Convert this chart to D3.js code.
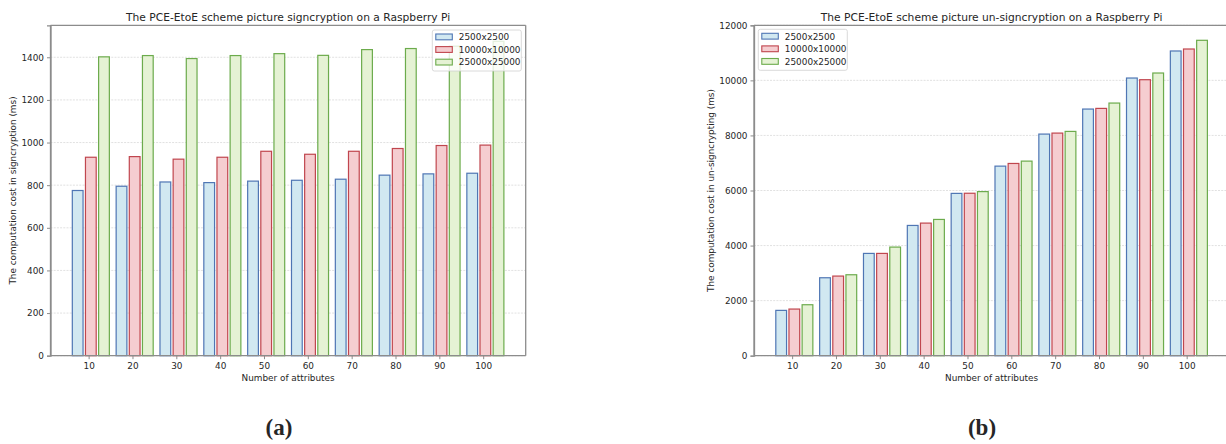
<!DOCTYPE html>
<html>
<head>
<meta charset="utf-8">
<script src="https://cdn.jsdelivr.net/npm/d3@7"></script>
<style>
  html, body { margin: 0; padding: 0; background: #fff; }
  svg { display: block; }
  text { font-family: "DejaVu Sans", sans-serif; fill: #262626; }
</style>
</head>
<body>
<svg id="chart" width="1226" height="444"></svg>
<script>
// Number of attributes (x categories)
const attributes = [10, 20, 30, 40, 50, 60, 70, 80, 90, 100];

// Picture sizes (series)
const seriesNames = ["2500x2500", "10000x10000", "25000x25000"];

// (a) signcryption cost in ms
const signSmall  = [775, 795, 815, 812, 819, 823, 828, 847, 853, 856];
const signMedium = [931, 934, 922, 931, 959, 945, 959, 972, 986, 988];
const signLarge  = [1402, 1408, 1394, 1408, 1417, 1409, 1436, 1441, 1452, 1475];

// (b) un-signcryption cost in ms
const unsignSmall  = [1646, 2831, 3715, 4731, 5895, 6885, 8049, 8958, 10085, 11067];
const unsignMedium = [1694, 2892, 3715, 4816, 5900, 6982, 8085, 8982, 10024, 11139];
const unsignLarge  = [1851, 2940, 3945, 4949, 5960, 7067, 8146, 9176, 10267, 11455];

// Tick values
const signTicks = [0, 200, 400, 600, 800, 1000, 1200, 1400];
const unsignTicks = [0, 2000, 4000, 6000, 8000, 10000, 12000];

const fills   = ["#d1e8f1", "#f5cdd0", "#e5f2d4"];
const strokes = ["#4f76b4", "#c0464e", "#6cab4c"];
const offsets = [-2.5, 0.5, 3.5];   // bar centre offset, in attribute units
const barWidth = 2.45;              // bar width, in attribute units

const FS_TICK = 8.9, FS_LABEL = 8.9, FS_TITLE = 10.7, FS_LEGEND = 8.9;

const svg = d3.select("#chart");

function drawPanel(cfg) {
  const { left, right, top, bottom, yMax, ticks, series, title, yLabel, legendX, legendY, showRight } = cfg;
  const g = svg.append("g");

  const x = d3.scaleLinear().domain([1.3, 109.7]).range([left, right]);
  const y = d3.scaleLinear().domain([0, yMax]).range([bottom, top]);

  // horizontal grid
  g.append("g").selectAll("line").data(ticks).join("line")
    .attr("x1", left).attr("x2", right)
    .attr("y1", d => y(d)).attr("y2", d => y(d))
    .attr("stroke", "#d4d4d4").attr("stroke-width", 0.7)
    .attr("stroke-dasharray", "2,1.2");

  // bars
  series.forEach((vals, si) => {
    g.append("g").selectAll("rect").data(attributes).join("rect")
      .attr("x", (d) => x(d + offsets[si] - barWidth / 2))
      .attr("width", x(barWidth) - x(0))
      .attr("y", (d, i) => y(vals[i]))
      .attr("height", (d, i) => y(0) - y(vals[i]))
      .attr("fill", fills[si])
      .attr("stroke", strokes[si])
      .attr("stroke-width", 1.2);
  });

  // spines
  const spine = "#8c8c8c";
  g.append("line").attr("x1", left).attr("x2", left).attr("y1", top).attr("y2", bottom)
    .attr("stroke", spine).attr("stroke-width", 1.3);
  g.append("line").attr("x1", left).attr("x2", right).attr("y1", top).attr("y2", top)
    .attr("stroke", spine).attr("stroke-width", 1.3);
  if (showRight) {
    g.append("line").attr("x1", right).attr("x2", right).attr("y1", top).attr("y2", bottom)
      .attr("stroke", spine).attr("stroke-width", 1.3);
  }

  // axes
  const xAxis = g.append("g").attr("transform", `translate(0,${bottom})`)
    .call(d3.axisBottom(x).tickValues(attributes).tickSize(3.5).tickPadding(3));
  const yAxis = g.append("g").attr("transform", `translate(${left},0)`)
    .call(d3.axisLeft(y).tickValues(ticks).tickFormat(d3.format("d")).tickSize(3.5).tickPadding(3));
  [xAxis, yAxis].forEach(a => {
    a.attr("font-family", null).attr("font-size", null);
    a.select(".domain").attr("stroke", spine).attr("stroke-width", 1.3);
    a.selectAll(".tick line").attr("stroke", spine).attr("stroke-width", 1);
    a.selectAll(".tick text").attr("font-size", FS_TICK).attr("fill", "#262626");
  });
  xAxis.select(".domain").attr("d", `M${left},0H${right}`);

  // titles and labels
  g.append("text").attr("x", (left + right) / 2).attr("y", 20.5)
    .attr("text-anchor", "middle").attr("font-size", FS_TITLE).text(title);
  g.append("text").attr("x", (left + right) / 2).attr("y", 380.5)
    .attr("text-anchor", "middle").attr("font-size", FS_LABEL).text("Number of attributes");
  g.append("text")
    .attr("transform", `translate(${cfg.yLabelX},${(top + bottom) / 2}) rotate(-90)`)
    .attr("text-anchor", "middle").attr("font-size", FS_LABEL).text(yLabel);

  // legend
  const lg = g.append("g").attr("transform", `translate(${legendX},${legendY})`);
  lg.append("rect").attr("width", 89).attr("height", 41).attr("rx", 2)
    .attr("fill", "#fff").attr("fill-opacity", 0.8)
    .attr("stroke", "#d0d0d0").attr("stroke-width", 0.8);
  seriesNames.forEach((name, i) => {
    const row = lg.append("g").attr("transform", `translate(3.5,${7 + i * 12.6})`);
    row.append("rect").attr("x", 0).attr("y", -3).attr("width", 16.5).attr("height", 5.8)
      .attr("fill", fills[i]).attr("stroke", strokes[i]).attr("stroke-width", 1.1);
    row.append("text").attr("x", 23).attr("y", 3.2).attr("font-size", FS_LEGEND).text(name);
  });
}

drawPanel({
  left: 50.5, right: 525.7, top: 25.3, bottom: 355.7, yMax: 1550,
  ticks: signTicks, series: [signSmall, signMedium, signLarge],
  title: "The PCE-EtoE scheme picture signcryption on a Raspberry Pi",
  yLabel: "The computation cost in signcryption (ms)", yLabelX: 16,
  legendX: 432.3, legendY: 30, showRight: true
});

drawPanel({
  left: 754, right: 1229.2, top: 25.3, bottom: 355.7, yMax: 12000,
  ticks: unsignTicks, series: [unsignSmall, unsignMedium, unsignLarge],
  title: "The PCE-EtoE scheme picture un-signcryption on a Raspberry Pi",
  yLabel: "The computation cost in un-signcrypting (ms)", yLabelX: 714,
  legendX: 758.3, legendY: 29.3, showRight: true
});

// panel captions
const captions = [{ t: "(a)", x: 279 }, { t: "(b)", x: 982 }];
svg.selectAll("text.caption").data(captions).join("text")
  .attr("class", "caption")
  .attr("x", d => d.x).attr("y", 435)
  .attr("text-anchor", "middle")
  .style("font-family", "'Liberation Serif', serif")
  .attr("font-weight", "bold")
  .attr("font-size", 23)
  .text(d => d.t);
</script>
</body>
</html>
